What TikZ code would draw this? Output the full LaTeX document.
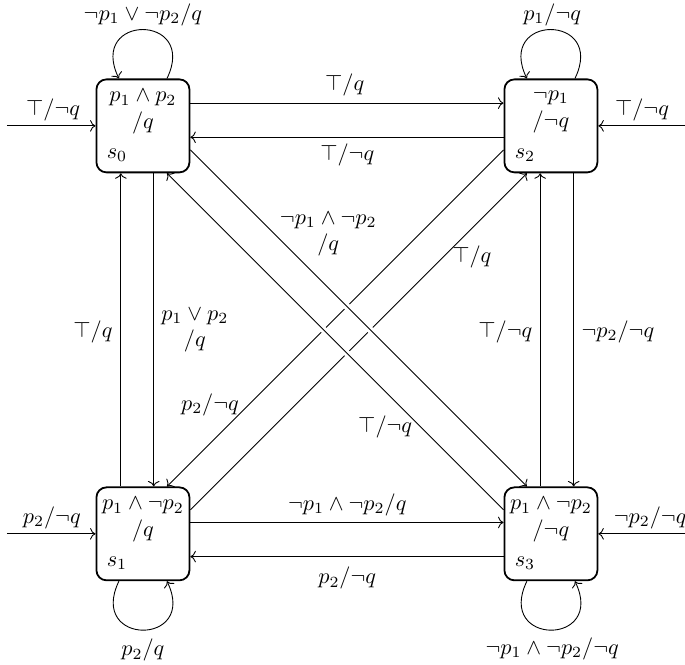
\documentclass[tikz,border=0pt]{standalone}
\usepackage{amsmath,amssymb}
\usetikzlibrary{arrows.meta,positioning,calc}

\begin{document}
\begin{tikzpicture}[every node/.style={font=\normalsize},
  state/.style={draw,thick,rounded corners=4.5pt,minimum width=1.47cm,minimum height=1.47cm},
  stxt/.style={align=center,inner sep=0pt},
  lbl/.style={inner sep=1pt,align=center},
  crossover/.style={preaction={draw=white,line width=3pt,-,shorten <=5pt,shorten >=5pt}}]
\useasboundingbox (-2.26,-8.51) rectangle (8.57,1.99);
% states
\node[state] (s0) at (0,0) {};
\node[state] (s2) at (6.45,0) {};
\node[state] (s1) at (0,-6.45) {};
\node[state] (s3) at (6.45,-6.45) {};
\node[stxt] (t0) at ([yshift=6.3pt]s0.center) {$p_1\wedge p_2$\\$/q$};
\node[stxt] (t2) at ([yshift=6.3pt]s2.center) {$\neg p_1$\\$/\neg q$};
\node[stxt] (t1) at ([yshift=6.3pt]s1.center) {$p_1\wedge\neg p_2$\\$/q$};
\node[stxt] (t3) at ([yshift=6.3pt]s3.center) {$p_1\wedge\neg p_2$\\$/\neg q$};
\node (n0) at ([shift={(-0.41,-0.46)}]s0.center) {$s_0$};
\node (n2) at ([shift={(-0.41,-0.46)}]s2.center) {$s_2$};
\node (n1) at ([shift={(-0.41,-0.46)}]s1.center) {$s_1$};
\node (n3) at ([shift={(-0.41,-0.46)}]s3.center) {$s_3$};
% entry points
\coordinate (i0) at (-2.15,0);
\coordinate (i2) at (8.57,0);
\coordinate (i1) at (-2.15,-6.45);
\coordinate (i3) at (8.57,-6.45);
\draw[->] (i0) -- (s0.west);
\draw[->] (i2) -- (s2.east);
\draw[->] (i1) -- (s1.west);
\draw[->] (i3) -- (s3.east);
\node[lbl] (li0) at (-1.42,0.25) {$\top/\neg q$};
\node[lbl] (li2) at (7.89,0.25) {$\top/\neg q$};
\node[lbl] (li1) at (-1.44,-6.2) {$p_2/\neg q$};
\node[lbl] (li3) at (8.02,-6.2) {$\neg p_2/\neg q$};
% loops
\draw[->] ([xshift=0.38cm]s0.north) .. controls +(0.5,1.03) and +(-0.5,1.03) .. ([xshift=-0.38cm]s0.north);
\draw[->] ([xshift=0.38cm]s2.north) .. controls +(0.5,1.03) and +(-0.5,1.03) .. ([xshift=-0.38cm]s2.north);
\draw[->] ([xshift=-0.38cm]s1.south) .. controls +(-0.5,-1.03) and +(0.5,-1.03) .. ([xshift=0.38cm]s1.south);
\draw[->] ([xshift=-0.38cm]s3.south) .. controls +(-0.5,-1.03) and +(0.5,-1.03) .. ([xshift=0.38cm]s3.south);
\node[lbl] (ll0) at (0,1.76) {$\neg p_1\vee\neg p_2/q$};
\node[lbl] (ll2) at (6.47,1.76) {$p_1/\neg q$};
\node[lbl] (ll1) at (0,-8.29) {$p_2/q$};
\node[lbl] (ll3) at (6.47,-8.27) {$\neg p_1\wedge\neg p_2/\neg q$};
% horizontal and vertical transitions
\draw[->] ([yshift=0.36cm]s0.east) -- ([yshift=0.36cm]s2.west);
\draw[->] ([yshift=-0.18cm]s2.west) -- ([yshift=-0.18cm]s0.east);
\draw[->] ([yshift=0.18cm]s1.east) -- ([yshift=0.18cm]s3.west);
\draw[->] ([yshift=-0.36cm]s3.west) -- ([yshift=-0.36cm]s1.east);
\draw[->] ([xshift=-0.35cm]s1.north) -- ([xshift=-0.35cm]s0.south);
\draw[->] ([xshift=0.17cm]s0.south) -- ([xshift=0.17cm]s1.north);
\draw[->] ([xshift=-0.17cm]s3.north) -- ([xshift=-0.17cm]s2.south);
\draw[->] ([xshift=0.36cm]s2.south) -- ([xshift=0.36cm]s3.north);
\node[lbl] (l02) at (3.19,0.65) {$\top/q$};
\node[lbl] (l20) at (3.23,-0.46) {$\top/\neg q$};
\node[lbl] (l13) at (3.23,-5.99) {$\neg p_1\wedge\neg p_2/q$};
\node[lbl] (l31) at (3.23,-7.15) {$p_2/\neg q$};
\node[lbl] (l10) at (-0.79,-3.26) {$\top/q$};
\node[lbl] (l01) at (0.82,-3.23) {$p_1\vee p_2$\\$/q$};
\node[lbl] (l32) at (5.73,-3.26) {$\top/\neg q$};
\node[lbl] (l23) at (7.51,-3.26) {$\neg p_2/\neg q$};
% diagonals
\draw[->] ([yshift=0.38cm]s1.east) -- ([xshift=-0.38cm]s2.south);
\draw[->] ([yshift=-0.38cm]s2.west) -- ([xshift=0.38cm]s1.north);
\draw[->,crossover] ([yshift=-0.38cm]s0.east) -- ([xshift=-0.38cm]s3.north);
\draw[->,crossover] ([yshift=0.38cm]s3.west) -- ([xshift=0.38cm]s0.south);
\node[lbl] (l12) at (5.20,-2.07) {$\top/q$};
\node[lbl] (l21) at (1.06,-4.41) {$p_2/\neg q$};
\node[lbl] (l03) at (2.93,-1.71) {$\neg p_1\wedge\neg p_2$\\$/q$};
\node[lbl] (l30) at (3.83,-4.76) {$\top/\neg q$};
\end{tikzpicture}
\end{document}
